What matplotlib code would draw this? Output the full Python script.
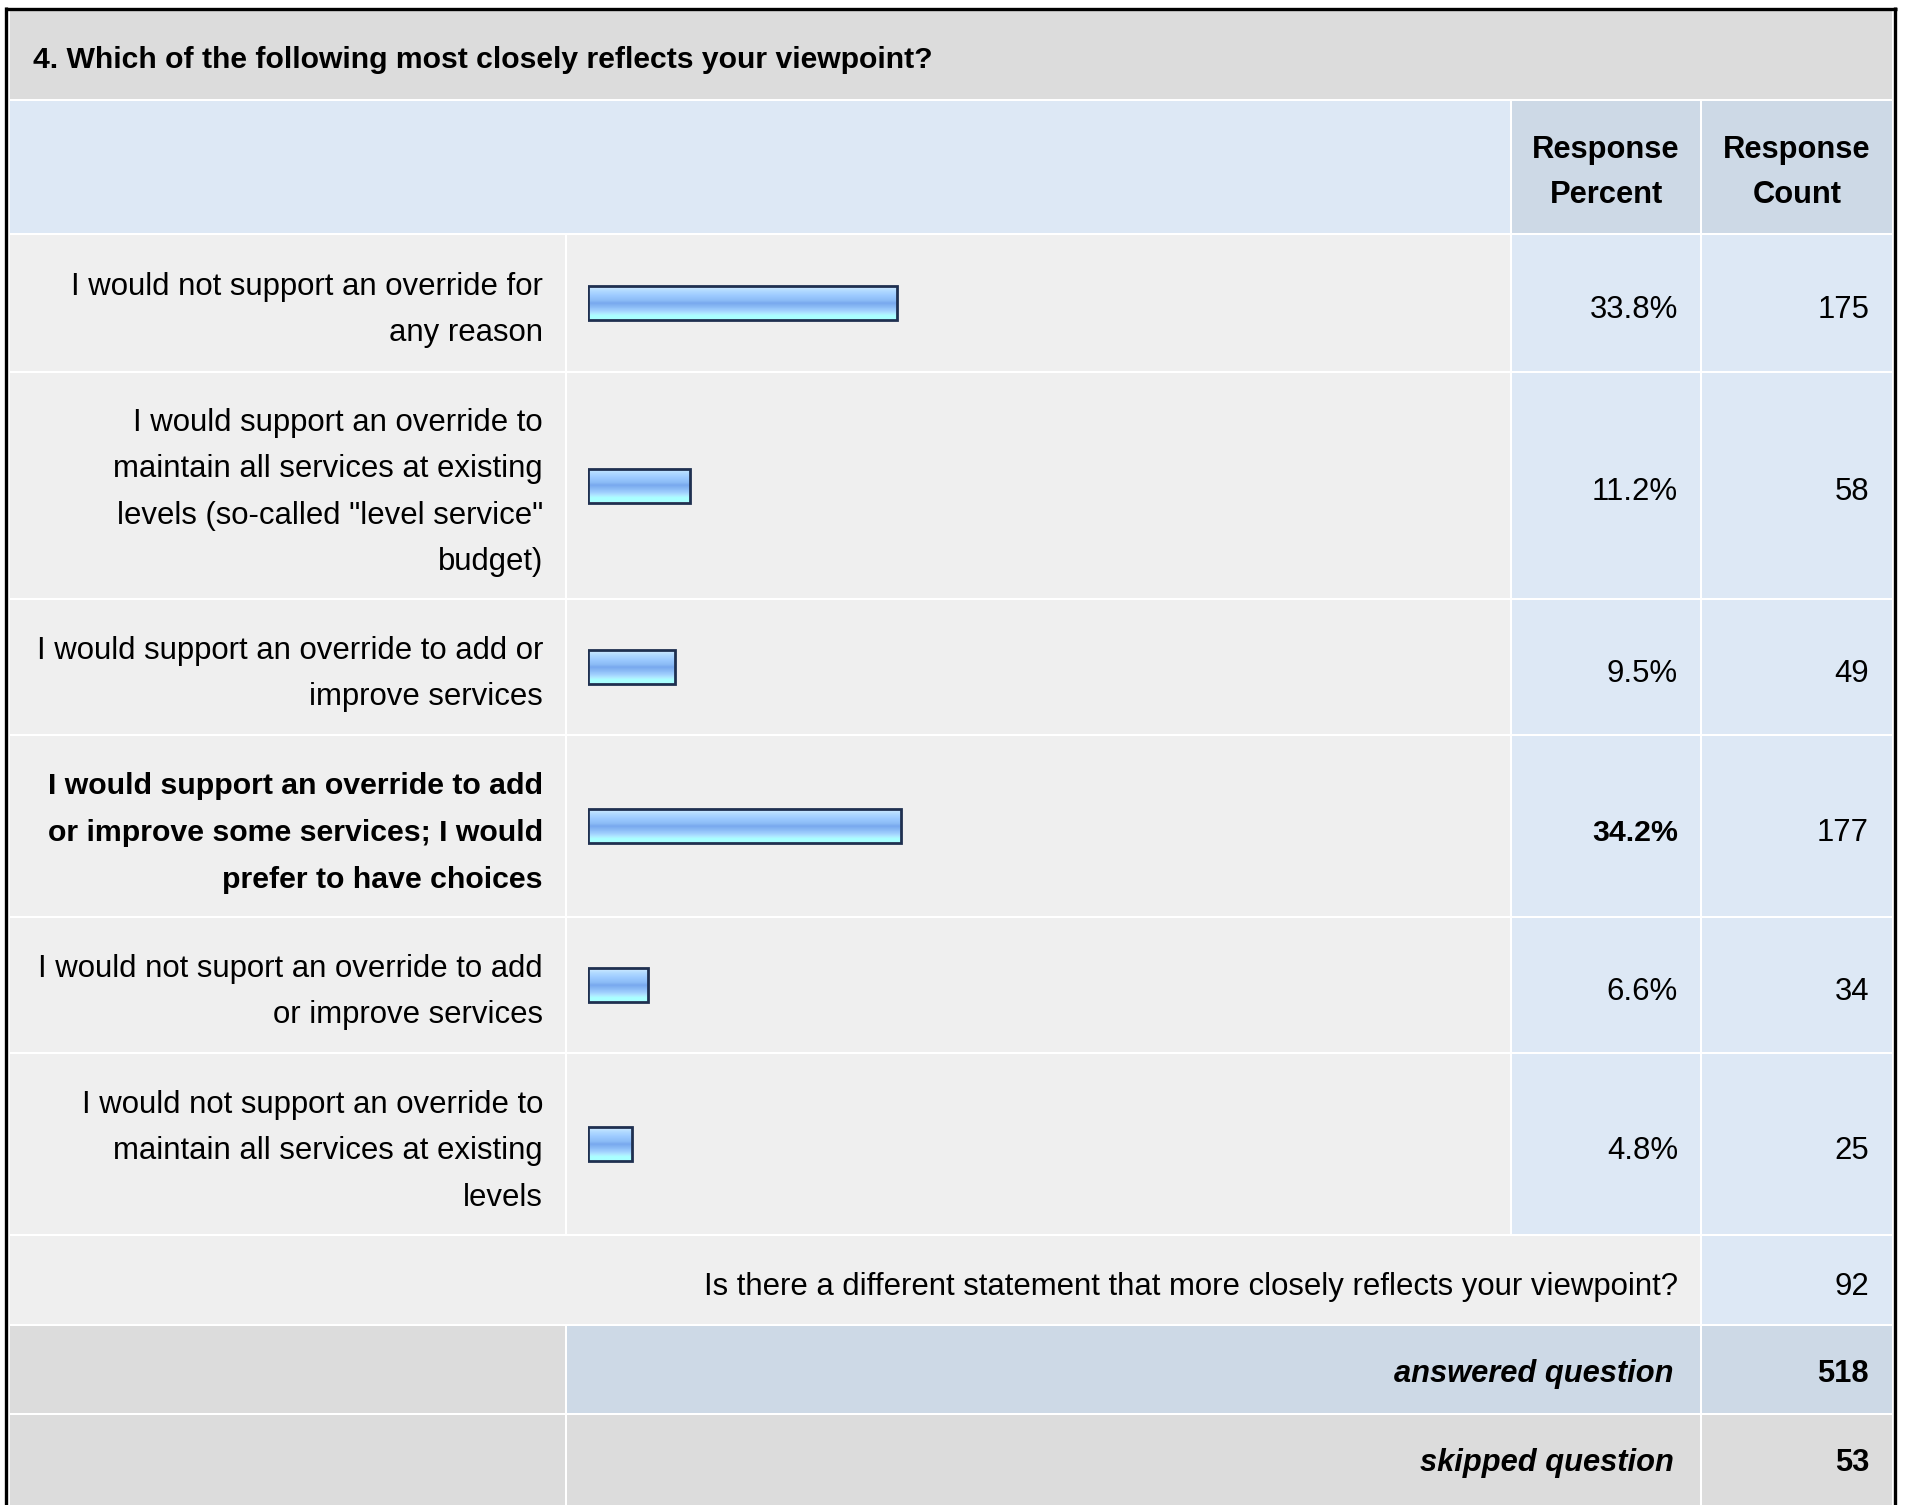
import matplotlib
matplotlib.use("Agg")
import matplotlib.pyplot as plt
from matplotlib.patches import Rectangle
from matplotlib.colors import to_rgb
import numpy as np

plt.rcParams['font.family'] = ['Liberation Sans', 'DejaVu Sans']

# ---- data ----
title = "4. Which of the following most closely reflects your viewpoint?"
answer_lines = [
    ["I would not support an override for", "any reason"],
    ["I would support an override to", "maintain all services at existing",
     "levels (so-called \"level service\"", "budget)"],
    ["I would support an override to add or", "improve services"],
    ["I would support an override to add", "or improve some services; I would",
     "prefer to have choices"],
    ["I would not suport an override to add", "or improve services"],
    ["I would not support an override to", "maintain all services at existing",
     "levels"],
]
percents = [33.8, 11.2, 9.5, 34.2, 6.6, 4.8]
counts = [175, 58, 49, 177, 34, 25]
top_row = 3  # highlighted (largest) answer
other_text = "Is there a different statement that more closely reflects your viewpoint?"
other_count = 92
answered = 518
skipped = 53

# ---- layout (pixels) ----
W, H = 1913, 1505
col_x = [9, 566, 1511, 1701, 1893]
row_y = [10, 100, 234, 372, 599, 735, 917, 1053, 1235, 1325, 1414, 1507]
bar_x0, bar_w = 588, 915
bar_h = 34
line_pitch = 46.5

GRAY = "#dcdcdc"
LIGHT = "#efefef"
BLUE = "#dde8f5"
BLUE2 = "#cdd9e6"
FS = 22.4       # regular text
FS_B = 21.8     # bold answer text
FS_HEAD = 22.2
FS_TITLE = 21.7
FS_SUM = 22.2

fig = plt.figure(figsize=(W / 100, H / 100), dpi=100)
fig.patch.set_facecolor("white")
ax = fig.add_axes([0, 0, 1, 1])
ax.set_xlim(0, W)
ax.set_ylim(H, 0)
ax.axis("off")


def cell(x0, x1, y0, y1, color):
    ax.add_patch(Rectangle((x0 + 1, y0 + 1), x1 - x0 - 2, y1 - y0 - 2,
                           facecolor=color, edgecolor="none"))


# title row
cell(col_x[0], col_x[4], row_y[0], row_y[1], GRAY)
ax.text(33, 68, title, fontsize=FS_TITLE, fontweight="bold", ha="left", va="baseline")

# header row
cell(col_x[0], col_x[2], row_y[1], row_y[2], BLUE)
cell(col_x[2], col_x[3], row_y[1], row_y[2], BLUE2)
cell(col_x[3], col_x[4], row_y[1], row_y[2], BLUE2)
for c, word in [(2, "Percent"), (3, "Count")]:
    cx = (col_x[c] + col_x[c + 1]) / 2
    ax.text(cx, 158, "Response", fontsize=FS_HEAD, fontweight="bold",
            ha="center", va="baseline")
    ax.text(cx, 203, word, fontsize=FS_HEAD, fontweight="bold",
            ha="center", va="baseline")

# answer rows
centers = []
for i, lines in enumerate(answer_lines):
    y0, y1 = row_y[i + 2], row_y[i + 3]
    cy = (y0 + y1) / 2
    centers.append(cy)
    cell(col_x[0], col_x[1], y0, y1, LIGHT)
    cell(col_x[1], col_x[2], y0, y1, LIGHT)
    cell(col_x[2], col_x[3], y0, y1, BLUE)
    cell(col_x[3], col_x[4], y0, y1, BLUE)
    bold = i == top_row
    wt = "bold" if bold else "normal"
    fs = FS_B if bold else FS
    n = len(lines)
    for k, ln in enumerate(lines):
        base = cy + 4 + (k - (n - 1) / 2) * line_pitch + 11
        ax.text(543, base, ln, fontsize=fs, fontweight=wt, ha="right", va="baseline")
    ax.text(1678, cy + 15, f"{percents[i]:.1f}%", fontsize=fs, fontweight=wt,
            ha="right", va="baseline")
    ax.text(1869, cy + 15, str(counts[i]), fontsize=FS, ha="right", va="baseline")

# other statement row
y0, y1 = row_y[8], row_y[9]
cell(col_x[0], col_x[3], y0, y1, LIGHT)
cell(col_x[3], col_x[4], y0, y1, BLUE)
ax.text(1678, (y0 + y1) / 2 + 15, other_text, fontsize=FS, ha="right", va="baseline")
ax.text(1869, (y0 + y1) / 2 + 15, str(other_count), fontsize=FS, ha="right", va="baseline")

# answered / skipped rows
for r, label, val, mid in [(9, "answered question", answered, BLUE2),
                           (10, "skipped question", skipped, GRAY)]:
    y0, y1 = row_y[r], row_y[r + 1]
    cell(col_x[0], col_x[1], y0, y1, GRAY)
    cell(col_x[1], col_x[3], y0, y1, mid)
    cell(col_x[3], col_x[4], y0, y1, mid)
    ax.text(1674, y0 + 57, label, fontsize=FS_SUM, fontweight="bold", style="italic",
            ha="right", va="baseline")
    ax.text(1869, y0 + 57, str(val), fontsize=FS_SUM, fontweight="bold",
            ha="right", va="baseline")

# outer border
ax.plot([6, 6], [7, H + 5], color="black", lw=2.4, solid_capstyle="butt")
ax.plot([1895, 1895], [7, H + 5], color="black", lw=2.4, solid_capstyle="butt")
ax.plot([4.5, 1896.5], [8.5, 8.5], color="black", lw=2.4, solid_capstyle="butt")

# bars
bax = fig.add_axes([bar_x0 / W, 1 - row_y[8] / H, bar_w / W, (row_y[8] - row_y[2]) / H])
bax.patch.set_alpha(0)
stops = [(0.00, "#d4ecff"), (0.12, "#b4dcff"), (0.28, "#9ccaff"), (0.42, "#8cbcf6"),
         (0.50, "#78a8ee"), (0.62, "#8cbcf6"), (0.74, "#a4d4ff"), (0.82, "#b0ecff"),
         (0.87, "#aaffff"), (1.00, "#aaffff")]
pos = np.array([s[0] for s in stops])
rgb = np.array([to_rgb(s[1]) for s in stops])
t = np.linspace(0, 1, 64)
grad = np.stack([np.interp(t, pos, rgb[:, c]) for c in range(3)], axis=1)[:, None, :]

bars = bax.barh(centers, percents, height=bar_h, left=0, facecolor="none",
                edgecolor="#1f3050", linewidth=2.0, zorder=3)
for b in bars:
    x, y = b.get_x(), b.get_y()
    im = bax.imshow(grad, extent=(x, x + b.get_width(), y + b.get_height(), y),
                    aspect="auto", zorder=2, interpolation="bilinear")
    im.set_clip_path(b)
bax.set_xlim(0, 100)
bax.set_ylim(row_y[8], row_y[2])
bax.axis("off")

fig.savefig("out.png", dpi=100, facecolor="white")
